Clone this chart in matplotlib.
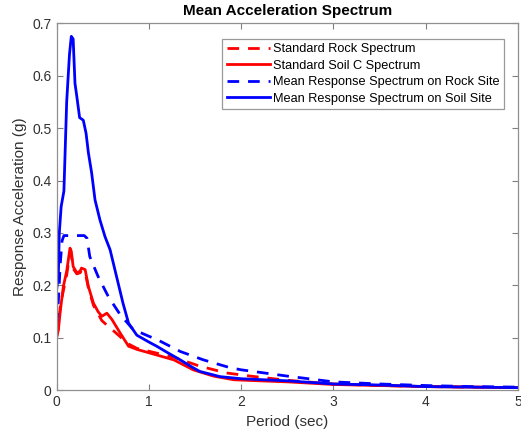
import matplotlib.pyplot as plt

plt.rcParams['font.family'] = ['Liberation Sans', 'DejaVu Sans']

# Period (sec) and spectral values (g)
soil_mean_t = [0.0, 0.02, 0.03, 0.05, 0.08, 0.11, 0.14, 0.16, 0.18, 0.2, 0.22, 0.25, 0.29, 0.32,
               0.345, 0.38, 0.417, 0.47, 0.525, 0.58, 0.65, 0.72, 0.78, 0.87, 1.0, 1.085, 1.2,
               1.34, 1.45, 1.55, 1.77, 2.0, 2.5, 3.0, 3.5, 4.0, 4.5, 5.0]
soil_mean_a = [0.19, 0.22, 0.30, 0.35, 0.38, 0.55, 0.64, 0.675, 0.67, 0.585, 0.56, 0.52, 0.515, 0.49,
               0.453, 0.415, 0.363, 0.325, 0.293, 0.268, 0.217, 0.166, 0.128, 0.105, 0.092, 0.084, 0.072,
               0.058, 0.046, 0.036, 0.026, 0.022, 0.018, 0.012, 0.010, 0.007, 0.006, 0.005]

rock_mean_t = [0.0, 0.02, 0.04, 0.06, 0.08, 0.12, 0.2, 0.3, 0.33, 0.36, 0.45, 0.56, 0.69, 0.83,
               1.0, 1.085, 1.34, 1.59, 1.88, 2.0, 2.5, 3.0, 3.5, 4.0, 4.5, 5.0]
rock_mean_a = [0.125, 0.17, 0.24, 0.285, 0.295, 0.295, 0.295, 0.295, 0.29, 0.255, 0.217, 0.179, 0.144, 0.116,
               0.103, 0.097, 0.074, 0.058, 0.043, 0.039, 0.027, 0.016, 0.012, 0.009, 0.007, 0.006]

soil_std_t = [0.0, 0.02, 0.04, 0.074, 0.11, 0.146, 0.16, 0.18, 0.22, 0.255, 0.27, 0.31, 0.345, 0.4,
              0.45, 0.49, 0.545, 0.6, 0.69, 0.78, 0.87, 1.01, 1.27, 1.48, 1.7, 1.92, 2.2, 2.5,
              3.0, 3.5, 4.0, 4.5, 5.0]
soil_std_a = [0.1, 0.115, 0.15, 0.198, 0.227, 0.271, 0.265, 0.236, 0.224, 0.227, 0.233, 0.23, 0.198, 0.166,
              0.15, 0.141, 0.147, 0.135, 0.109, 0.084, 0.078, 0.071, 0.058, 0.039, 0.027, 0.02, 0.018, 0.016,
              0.011, 0.009, 0.007, 0.006, 0.005]

rock_std_t = [0.0, 0.02, 0.04, 0.074, 0.11, 0.146, 0.16, 0.18, 0.22, 0.255, 0.27, 0.31, 0.345, 0.4,
              0.45, 0.49, 0.54, 0.6, 0.69, 0.76, 0.87, 1.01, 1.27, 1.55, 1.84, 2.1, 2.5, 3.0,
              3.5, 4.0, 4.5, 5.0]
rock_std_a = [0.1, 0.12, 0.16, 0.19, 0.22, 0.262, 0.258, 0.232, 0.222, 0.224, 0.228, 0.225, 0.195, 0.162,
              0.146, 0.133, 0.125, 0.116, 0.102, 0.09, 0.08, 0.074, 0.063, 0.046, 0.033, 0.027, 0.019, 0.012,
              0.009, 0.007, 0.006, 0.005]

fig = plt.figure(figsize=(5.21, 4.38), dpi=100)
ax = fig.add_axes([0.1085, 0.109, 0.886, 0.838])

lw = 2.0
dash = (4.2, 3.2)
ax.plot(rock_std_t, rock_std_a, color='red', lw=lw, ls='--', dashes=dash, label='Standard Rock Spectrum')
ax.plot(soil_std_t, soil_std_a, color='red', lw=lw, label='Standard Soil C Spectrum')
ax.plot(rock_mean_t, rock_mean_a, color='blue', lw=lw, ls='--', dashes=dash,
        label='Mean Response Spectrum on Rock Site')
ax.plot(soil_mean_t, soil_mean_a, color='blue', lw=lw, label='Mean Response Spectrum on Soil Site')

ax.set_xlim(0, 5)
ax.set_ylim(0, 0.7)
ax.set_xticks([0, 1, 2, 3, 4, 5])
ax.set_xticklabels(['0', '1', '2', '3', '4', '5'])
ax.set_yticks([0, 0.1, 0.2, 0.3, 0.4, 0.5, 0.6, 0.7])
ax.set_yticklabels(['0', '0.1', '0.2', '0.3', '0.4', '0.5', '0.6', '0.7'])
ax.tick_params(direction='in', top=True, right=True, length=4, color='#808080',
               labelcolor='#303030', labelsize=10)
for s in ax.spines.values():
    s.set_color('#909090')
    s.set_linewidth(0.9)

ax.set_xlabel('Period (sec)', fontsize=11, color='#303030')
ax.set_ylabel('Response Acceleration (g)', fontsize=11, color='#303030')
ax.set_title('Mean Acceleration Spectrum', fontsize=11, fontweight='bold', pad=6)

leg = ax.legend(loc='upper right', bbox_to_anchor=(0.97, 0.958), fontsize=9.2, frameon=True,
                fancybox=False, edgecolor='#808080', handlelength=3.4, handletextpad=0.25,
                labelspacing=0.36, borderpad=0.35, borderaxespad=0)
leg.get_frame().set_linewidth(0.9)

fig.savefig('out.png', dpi=100)
